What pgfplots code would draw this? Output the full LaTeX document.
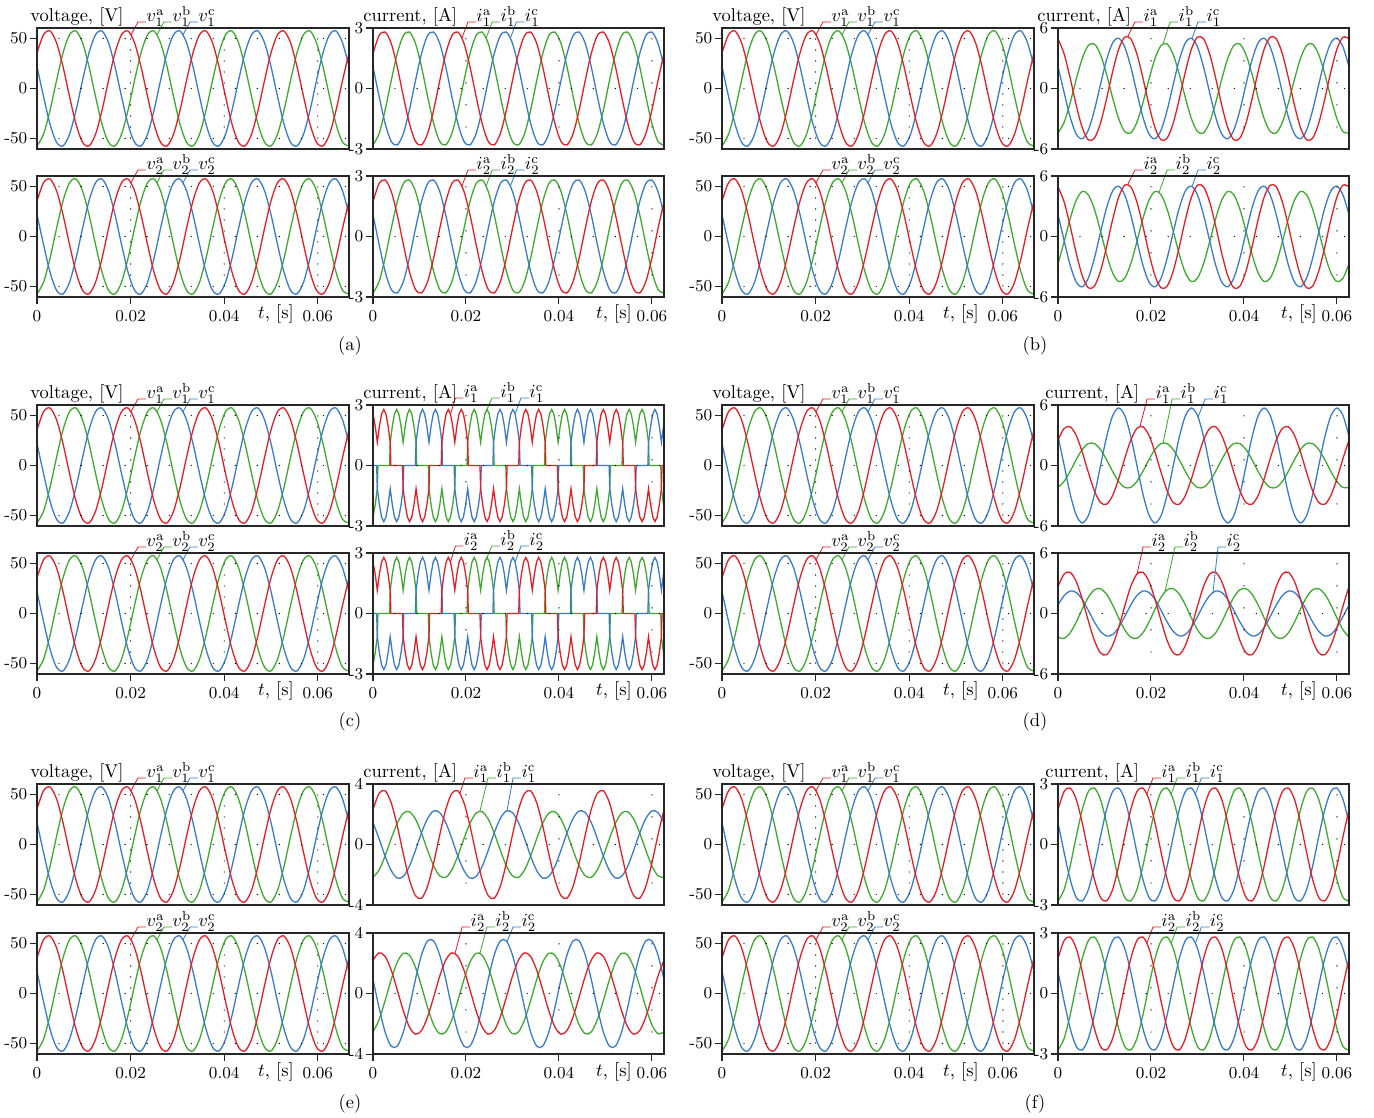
\documentclass[border=0pt]{standalone}
\usepackage{pgfplots}
\pgfplotsset{compat=1.18}
\usepackage{pgfplotstable}
\definecolor{cR}{RGB}{228,30,38}
\definecolor{cG}{RGB}{62,168,48}
\definecolor{cB}{RGB}{58,122,198}
\pgfplotsset{
 P/.style={scale only axis, anchor=north west, clip=false, axis on top,
  height=65.34pt,
  axis line style={black!85, line width=0.7pt},
  tick style={black!85, line width=0.55pt},
  tick align=outside, xtick pos=bottom, ytick pos=left,
  major tick length=3.6pt,
  tick label style={font=\small},
  yticklabel style={inner sep=1.5pt},
  xmajorgrids, ymajorgrids,
  x grid style={black, line width=0.75pt, line cap=round, dash pattern=on 0pt off 11.9pt},
  y grid style={black, line width=0.75pt, line cap=round, dash pattern=on 0pt off 11.9pt},
  every axis plot/.append style={line width=0.7pt},
 },
 V/.style={P, width=168.48pt, xmin=0, xmax=1440, ymin=-60.5, ymax=60.5,
  ytick={-50,0,50}, yticklabels={-50,0,50}, xtick={0,432,864,1296},
  x grid style={dash pattern=on 0pt off 5.94pt}},
 C/.style={P, width=157.14pt, xmin=0, xmax=1440, xtick={0,460.1,920.3,1380.4}},
 Cc/.style={P, width=157.14pt, xmin=0, xmax=1352, xtick={0,432,864,1296}},
 y3/.style={ymin=-3,ymax=3,ytick={-3,0,3},yticklabels={-3,0,3}},
 y4/.style={ymin=-4,ymax=4,ytick={-4,0,4},yticklabels={-4,0,4}},
 y6/.style={ymin=-6,ymax=6,ytick={-6,0,6},yticklabels={-6,0,6}},
 top/.style={xticklabels={}, xtick style={draw=none}},
 bot/.style={xticklabels={0,0.02,0.04,0.06}},
}
\newcommand\ldr[7]{\draw[#1,line width=0.45pt] (axis cs:#2,#3) -- (axis cs:#4,#5) -- (axis cs:#6,#5) node[anchor=base west,inner sep=0pt,text=black]{#7};}
\newcommand\abc[1]{\addplot[cG,smooth] table[x=x,y=b]{#1};\addplot[cB,smooth] table[x=x,y=c]{#1};\addplot[cR,smooth] table[x=x,y=a]{#1};}
\newcommand\vlead[1]{\ldr{cR}{434}{53.8}{466}{66.5}{503}{$v_#1^{\mathrm{a}}$}\ldr{cG}{554}{53.8}{586}{66.5}{623}{$v_#1^{\mathrm{b}}$}\ldr{cB}{674}{53.8}{706}{66.5}{743}{$v_#1^{\mathrm{c}}$}}
\newcommand\alead[1]{\ldr{cR}{440}{2.50}{470}{3.3}{510}{$i_#1^{\mathrm{a}}$}\ldr{cG}{560}{2.50}{590}{3.3}{630}{$i_#1^{\mathrm{b}}$}\ldr{cB}{680}{2.50}{710}{3.3}{750}{$i_#1^{\mathrm{c}}$}}

\pgfplotstableread{
x a b c
0 35.55 -57.46 21.91
30 53.70 -45.83 -7.87
60 57.46 -21.91 -35.55
90 45.83 7.87 -53.70
120 21.91 35.55 -57.46
150 -7.87 53.70 -45.83
180 -35.55 57.46 -21.91
210 -53.70 45.83 7.87
240 -57.46 21.91 35.55
270 -45.83 -7.87 53.70
300 -21.91 -35.55 57.46
330 7.87 -53.70 45.83
360 35.55 -57.46 21.91
390 53.70 -45.83 -7.87
420 57.46 -21.91 -35.55
450 45.83 7.87 -53.70
480 21.91 35.55 -57.46
510 -7.87 53.70 -45.83
540 -35.55 57.46 -21.91
570 -53.70 45.83 7.87
600 -57.46 21.91 35.55
630 -45.83 -7.87 53.70
660 -21.91 -35.55 57.46
690 7.87 -53.70 45.83
720 35.55 -57.46 21.91
750 53.70 -45.83 -7.87
780 57.46 -21.91 -35.55
810 45.83 7.87 -53.70
840 21.91 35.55 -57.46
870 -7.87 53.70 -45.83
900 -35.55 57.46 -21.91
930 -53.70 45.83 7.87
960 -57.46 21.91 35.55
990 -45.83 -7.87 53.70
1020 -21.91 -35.55 57.46
1050 7.87 -53.70 45.83
1080 35.55 -57.46 21.91
1110 53.70 -45.83 -7.87
1140 57.46 -21.91 -35.55
1170 45.83 7.87 -53.70
1200 21.91 35.55 -57.46
1230 -7.87 53.70 -45.83
1260 -35.55 57.46 -21.91
1290 -53.70 45.83 7.87
1320 -57.46 21.91 35.55
1350 -45.83 -7.87 53.70
1380 -21.91 -35.55 57.46
1410 7.87 -53.70 45.83
1440 35.55 -57.46 21.91
}\tV

\pgfplotstableread{
x a b c
0 1.73 -2.80 1.07
30 2.62 -2.24 -0.38
60 2.80 -1.07 -1.73
90 2.24 0.38 -2.62
120 1.07 1.73 -2.80
150 -0.38 2.62 -2.24
180 -1.73 2.80 -1.07
210 -2.62 2.24 0.38
240 -2.80 1.07 1.73
270 -2.24 -0.38 2.62
300 -1.07 -1.73 2.80
330 0.38 -2.62 2.24
360 1.73 -2.80 1.07
390 2.62 -2.24 -0.38
420 2.80 -1.07 -1.73
450 2.24 0.38 -2.62
480 1.07 1.73 -2.80
510 -0.38 2.62 -2.24
540 -1.73 2.80 -1.07
570 -2.62 2.24 0.38
600 -2.80 1.07 1.73
630 -2.24 -0.38 2.62
660 -1.07 -1.73 2.80
690 0.38 -2.62 2.24
720 1.73 -2.80 1.07
750 2.62 -2.24 -0.38
780 2.80 -1.07 -1.73
810 2.24 0.38 -2.62
840 1.07 1.73 -2.80
870 -0.38 2.62 -2.24
900 -1.73 2.80 -1.07
930 -2.62 2.24 0.38
960 -2.80 1.07 1.73
990 -2.24 -0.38 2.62
1020 -1.07 -1.73 2.80
1050 0.38 -2.62 2.24
1080 1.73 -2.80 1.07
1110 2.62 -2.24 -0.38
1140 2.80 -1.07 -1.73
1170 2.24 0.38 -2.62
1200 1.07 1.73 -2.80
1230 -0.38 2.62 -2.24
1260 -1.73 2.80 -1.07
1290 -2.62 2.24 0.38
1320 -2.80 1.07 1.73
1350 -2.24 -0.38 2.62
1380 -1.07 -1.73 2.80
1410 0.38 -2.62 2.24
1440 1.73 -2.80 1.07
}\tA

\pgfplotstableread{
x a b c
0 4.93 -4.41 2.16
30 3.45 -3.37 -0.38
60 1.05 -1.43 -2.83
90 -1.64 0.90 -4.51
120 -3.89 2.98 -4.99
150 -5.09 4.27 -4.13
180 -4.93 4.41 -2.16
210 -3.45 3.37 0.38
240 -1.05 1.43 2.83
270 1.64 -0.90 4.51
300 3.89 -2.98 4.99
330 5.09 -4.27 4.13
360 4.93 -4.41 2.16
390 3.45 -3.37 -0.38
420 1.05 -1.43 -2.83
450 -1.64 0.90 -4.51
480 -3.89 2.98 -4.99
510 -5.09 4.27 -4.13
540 -4.93 4.41 -2.16
570 -3.45 3.37 0.38
600 -1.05 1.43 2.83
630 1.64 -0.90 4.51
660 3.89 -2.98 4.99
690 5.09 -4.27 4.13
720 4.93 -4.41 2.16
750 3.45 -3.37 -0.38
780 1.05 -1.43 -2.83
810 -1.64 0.90 -4.51
840 -3.89 2.98 -4.99
870 -5.09 4.27 -4.13
900 -4.93 4.41 -2.16
930 -3.45 3.37 0.38
960 -1.05 1.43 2.83
990 1.64 -0.90 4.51
1020 3.89 -2.98 4.99
1050 5.09 -4.27 4.13
1080 4.93 -4.41 2.16
1110 3.45 -3.37 -0.38
1140 1.05 -1.43 -2.83
1170 -1.64 0.90 -4.51
1200 -3.89 2.98 -4.99
1230 -5.09 4.27 -4.13
1260 -4.93 4.41 -2.16
1290 -3.45 3.37 0.38
1320 -1.05 1.43 2.83
1350 1.64 -0.90 4.51
1380 3.89 -2.98 4.99
1410 5.09 -4.27 4.13
1440 4.93 -4.41 2.16
}\tB

\pgfplotstableread{
x a b c
0 4.93 -2.71 2.16
30 3.45 -0.55 -0.38
60 1.05 1.76 -2.83
90 -1.64 3.59 -4.51
120 -3.89 4.47 -4.99
150 -5.09 4.14 -4.13
180 -4.93 2.71 -2.16
210 -3.45 0.55 0.38
240 -1.05 -1.76 2.83
270 1.64 -3.59 4.51
300 3.89 -4.47 4.99
330 5.09 -4.14 4.13
360 4.93 -2.71 2.16
390 3.45 -0.55 -0.38
420 1.05 1.76 -2.83
450 -1.64 3.59 -4.51
480 -3.89 4.47 -4.99
510 -5.09 4.14 -4.13
540 -4.93 2.71 -2.16
570 -3.45 0.55 0.38
600 -1.05 -1.76 2.83
630 1.64 -3.59 4.51
660 3.89 -4.47 4.99
690 5.09 -4.14 4.13
720 4.93 -2.71 2.16
750 3.45 -0.55 -0.38
780 1.05 1.76 -2.83
810 -1.64 3.59 -4.51
840 -3.89 4.47 -4.99
870 -5.09 4.14 -4.13
900 -4.93 2.71 -2.16
930 -3.45 0.55 0.38
960 -1.05 -1.76 2.83
990 1.64 -3.59 4.51
1020 3.89 -4.47 4.99
1050 5.09 -4.14 4.13
1080 4.93 -2.71 2.16
1110 3.45 -0.55 -0.38
1140 1.05 1.76 -2.83
1170 -1.64 3.59 -4.51
1200 -3.89 4.47 -4.99
1230 -5.09 4.14 -4.13
1260 -4.93 2.71 -2.16
1290 -3.45 0.55 0.38
1320 -1.05 -1.76 2.83
1350 1.64 -3.59 4.51
1380 3.89 -4.47 4.99
1410 5.09 -4.14 4.13
1440 4.93 -2.71 2.16
}\tBb

\pgfplotstableread{
x a b c
0 2.51 -2.17 2.90
30 3.67 -1.59 0.06
60 3.84 -0.58 -2.80
90 2.99 0.58 -4.91
120 1.33 1.59 -5.70
150 -0.68 2.17 -4.97
180 -2.51 2.17 -2.90
210 -3.67 1.59 -0.06
240 -3.84 0.58 2.80
270 -2.99 -0.58 4.91
300 -1.33 -1.59 5.70
330 0.68 -2.17 4.97
360 2.51 -2.17 2.90
390 3.67 -1.59 0.06
420 3.84 -0.58 -2.80
450 2.99 0.58 -4.91
480 1.33 1.59 -5.70
510 -0.68 2.17 -4.97
540 -2.51 2.17 -2.90
570 -3.67 1.59 -0.06
600 -3.84 0.58 2.80
630 -2.99 -0.58 4.91
660 -1.33 -1.59 5.70
690 0.68 -2.17 4.97
720 2.51 -2.17 2.90
750 3.67 -1.59 0.06
780 3.84 -0.58 -2.80
810 2.99 0.58 -4.91
840 1.33 1.59 -5.70
870 -0.68 2.17 -4.97
900 -2.51 2.17 -2.90
930 -3.67 1.59 -0.06
960 -3.84 0.58 2.80
990 -2.99 -0.58 4.91
1020 -1.33 -1.59 5.70
1050 0.68 -2.17 4.97
1080 2.51 -2.17 2.90
1110 3.67 -1.59 0.06
1140 3.84 -0.58 -2.80
1170 2.99 0.58 -4.91
1200 1.33 1.59 -5.70
1230 -0.68 2.17 -4.97
1260 -2.51 2.17 -2.90
1290 -3.67 1.59 -0.06
1320 -3.84 0.58 2.80
1350 -2.99 -0.58 4.91
1380 -1.33 -1.59 5.70
1410 0.68 -2.17 4.97
1440 2.51 -2.17 2.90
}\tDa

\pgfplotstableread{
x a b c
0 2.67 -2.35 0.84
30 3.90 -2.46 1.77
60 4.09 -1.92 2.23
90 3.18 -0.86 2.09
120 1.42 0.43 1.39
150 -0.72 1.61 0.31
180 -2.67 2.35 -0.84
210 -3.90 2.46 -1.77
240 -4.09 1.92 -2.23
270 -3.18 0.86 -2.09
300 -1.42 -0.43 -1.39
330 0.72 -1.61 -0.31
360 2.67 -2.35 0.84
390 3.90 -2.46 1.77
420 4.09 -1.92 2.23
450 3.18 -0.86 2.09
480 1.42 0.43 1.39
510 -0.72 1.61 0.31
540 -2.67 2.35 -0.84
570 -3.90 2.46 -1.77
600 -4.09 1.92 -2.23
630 -3.18 0.86 -2.09
660 -1.42 -0.43 -1.39
690 0.72 -1.61 -0.31
720 2.67 -2.35 0.84
750 3.90 -2.46 1.77
780 4.09 -1.92 2.23
810 3.18 -0.86 2.09
840 1.42 0.43 1.39
870 -0.72 1.61 0.31
900 -2.67 2.35 -0.84
930 -3.90 2.46 -1.77
960 -4.09 1.92 -2.23
990 -3.18 0.86 -2.09
1020 -1.42 -0.43 -1.39
1050 0.72 -1.61 -0.31
1080 2.67 -2.35 0.84
1110 3.90 -2.46 1.77
1140 4.09 -1.92 2.23
1170 3.18 -0.86 2.09
1200 1.42 0.43 1.39
1230 -0.72 1.61 0.31
1260 -2.67 2.35 -0.84
1290 -3.90 2.46 -1.77
1320 -4.09 1.92 -2.23
1350 -3.18 0.86 -2.09
1380 -1.42 -0.43 -1.39
1410 0.72 -1.61 -0.31
1440 2.67 -2.35 0.84
}\tDb

\pgfplotstableread{
x a b c
0 2.31 -2.17 1.45
30 3.38 -1.69 0.39
60 3.55 -0.75 -0.77
90 2.76 0.38 -1.72
120 1.23 1.41 -2.22
150 -0.62 2.07 -2.11
180 -2.31 2.17 -1.45
210 -3.38 1.69 -0.39
240 -3.55 0.75 0.77
270 -2.76 -0.38 1.72
300 -1.23 -1.41 2.22
330 0.62 -2.07 2.11
360 2.31 -2.17 1.45
390 3.38 -1.69 0.39
420 3.55 -0.75 -0.77
450 2.76 0.38 -1.72
480 1.23 1.41 -2.22
510 -0.62 2.07 -2.11
540 -2.31 2.17 -1.45
570 -3.38 1.69 -0.39
600 -3.55 0.75 0.77
630 -2.76 -0.38 1.72
660 -1.23 -1.41 2.22
690 0.62 -2.07 2.11
720 2.31 -2.17 1.45
750 3.38 -1.69 0.39
780 3.55 -0.75 -0.77
810 2.76 0.38 -1.72
840 1.23 1.41 -2.22
870 -0.62 2.07 -2.11
900 -2.31 2.17 -1.45
930 -3.38 1.69 -0.39
960 -3.55 0.75 0.77
990 -2.76 -0.38 1.72
1020 -1.23 -1.41 2.22
1050 0.62 -2.07 2.11
1080 2.31 -2.17 1.45
1110 3.38 -1.69 0.39
1140 3.55 -0.75 -0.77
1170 2.76 0.38 -1.72
1200 1.23 1.41 -2.22
1230 -0.62 2.07 -2.11
1260 -2.31 2.17 -1.45
1290 -3.38 1.69 -0.39
1320 -3.55 0.75 0.77
1350 -2.76 -0.38 1.72
1380 -1.23 -1.41 2.22
1410 0.62 -2.07 2.11
1440 2.31 -2.17 1.45
}\tEa

\pgfplotstableread{
x a b c
0 2.21 -2.54 0.93
30 2.69 -1.74 -0.93
60 2.45 -0.47 -2.55
90 1.55 0.92 -3.48
120 0.24 2.07 -3.48
150 -1.14 2.66 -2.55
180 -2.21 2.54 -0.93
210 -2.69 1.74 0.93
240 -2.45 0.47 2.55
270 -1.55 -0.92 3.48
300 -0.24 -2.07 3.48
330 1.14 -2.66 2.55
360 2.21 -2.54 0.93
390 2.69 -1.74 -0.93
420 2.45 -0.47 -2.55
450 1.55 0.92 -3.48
480 0.24 2.07 -3.48
510 -1.14 2.66 -2.55
540 -2.21 2.54 -0.93
570 -2.69 1.74 0.93
600 -2.45 0.47 2.55
630 -1.55 -0.92 3.48
660 -0.24 -2.07 3.48
690 1.14 -2.66 2.55
720 2.21 -2.54 0.93
750 2.69 -1.74 -0.93
780 2.45 -0.47 -2.55
810 1.55 0.92 -3.48
840 0.24 2.07 -3.48
870 -1.14 2.66 -2.55
900 -2.21 2.54 -0.93
930 -2.69 1.74 0.93
960 -2.45 0.47 2.55
990 -1.55 -0.92 3.48
1020 -0.24 -2.07 3.48
1050 1.14 -2.66 2.55
1080 2.21 -2.54 0.93
1110 2.69 -1.74 -0.93
1140 2.45 -0.47 -2.55
1170 1.55 0.92 -3.48
1200 0.24 2.07 -3.48
1230 -1.14 2.66 -2.55
1260 -2.21 2.54 -0.93
1290 -2.69 1.74 0.93
1320 -2.45 0.47 2.55
1350 -1.55 -0.92 3.48
1380 -0.24 -2.07 3.48
1410 1.14 -2.66 2.55
1440 2.21 -2.54 0.93
}\tEb

\pgfplotstableread{
x y
0 2.56
10 1.97
20 1.15
30 1.97
40 2.56
50 2.78
60 2.56
70 1.97
80 1.15
83 0
137 0
140 -1.15
150 -1.97
160 -2.56
170 -2.78
180 -2.56
190 -1.97
200 -1.15
210 -1.97
220 -2.56
230 -2.78
240 -2.56
250 -1.97
260 -1.15
263 0
317 0
320 1.15
330 1.97
340 2.56
350 2.78
360 2.56
370 1.97
380 1.15
390 1.97
400 2.56
410 2.78
420 2.56
430 1.97
440 1.15
443 0
497 0
500 -1.15
510 -1.97
520 -2.56
530 -2.78
540 -2.56
550 -1.97
560 -1.15
570 -1.97
580 -2.56
590 -2.78
600 -2.56
610 -1.97
620 -1.15
623 0
677 0
680 1.15
690 1.97
700 2.56
710 2.78
720 2.56
730 1.97
740 1.15
750 1.97
760 2.56
770 2.78
780 2.56
790 1.97
800 1.15
803 0
857 0
860 -1.15
870 -1.97
880 -2.56
890 -2.78
900 -2.56
910 -1.97
920 -1.15
930 -1.97
940 -2.56
950 -2.78
960 -2.56
970 -1.97
980 -1.15
983 0
1037 0
1040 1.15
1050 1.97
1060 2.56
1070 2.78
1080 2.56
1090 1.97
1100 1.15
1110 1.97
1120 2.56
1130 2.78
1140 2.56
1150 1.97
1160 1.15
1163 0
1217 0
1220 -1.15
1230 -1.97
1240 -2.56
1250 -2.78
1260 -2.56
1270 -1.97
1280 -1.15
1290 -1.97
1300 -2.56
1310 -2.78
1320 -2.56
1330 -1.97
1340 -1.15
1343 0
1352 0
}\tCr

\pgfplotstableread{
x y
0 -2.56
10 -1.97
20 -1.15
23 0
77 0
80 1.15
90 1.97
100 2.56
110 2.78
120 2.56
130 1.97
140 1.15
150 1.97
160 2.56
170 2.78
180 2.56
190 1.97
200 1.15
203 0
257 0
260 -1.15
270 -1.97
280 -2.56
290 -2.78
300 -2.56
310 -1.97
320 -1.15
330 -1.97
340 -2.56
350 -2.78
360 -2.56
370 -1.97
380 -1.15
383 0
437 0
440 1.15
450 1.97
460 2.56
470 2.78
480 2.56
490 1.97
500 1.15
510 1.97
520 2.56
530 2.78
540 2.56
550 1.97
560 1.15
563 0
617 0
620 -1.15
630 -1.97
640 -2.56
650 -2.78
660 -2.56
670 -1.97
680 -1.15
690 -1.97
700 -2.56
710 -2.78
720 -2.56
730 -1.97
740 -1.15
743 0
797 0
800 1.15
810 1.97
820 2.56
830 2.78
840 2.56
850 1.97
860 1.15
870 1.97
880 2.56
890 2.78
900 2.56
910 1.97
920 1.15
923 0
977 0
980 -1.15
990 -1.97
1000 -2.56
1010 -2.78
1020 -2.56
1030 -1.97
1040 -1.15
1050 -1.97
1060 -2.56
1070 -2.78
1080 -2.56
1090 -1.97
1100 -1.15
1103 0
1157 0
1160 1.15
1170 1.97
1180 2.56
1190 2.78
1200 2.56
1210 1.97
1220 1.15
1230 1.97
1240 2.56
1250 2.78
1260 2.56
1270 1.97
1280 1.15
1283 0
1337 0
1340 -1.15
1350 -1.97
1352 -2.09
}\tCg

\pgfplotstableread{
x y
0 0
17 0
20 -1.15
30 -1.97
40 -2.56
50 -2.78
60 -2.56
70 -1.97
80 -1.15
90 -1.97
100 -2.56
110 -2.78
120 -2.56
130 -1.97
140 -1.15
143 0
197 0
200 1.15
210 1.97
220 2.56
230 2.78
240 2.56
250 1.97
260 1.15
270 1.97
280 2.56
290 2.78
300 2.56
310 1.97
320 1.15
323 0
377 0
380 -1.15
390 -1.97
400 -2.56
410 -2.78
420 -2.56
430 -1.97
440 -1.15
450 -1.97
460 -2.56
470 -2.78
480 -2.56
490 -1.97
500 -1.15
503 0
557 0
560 1.15
570 1.97
580 2.56
590 2.78
600 2.56
610 1.97
620 1.15
630 1.97
640 2.56
650 2.78
660 2.56
670 1.97
680 1.15
683 0
737 0
740 -1.15
750 -1.97
760 -2.56
770 -2.78
780 -2.56
790 -1.97
800 -1.15
810 -1.97
820 -2.56
830 -2.78
840 -2.56
850 -1.97
860 -1.15
863 0
917 0
920 1.15
930 1.97
940 2.56
950 2.78
960 2.56
970 1.97
980 1.15
990 1.97
1000 2.56
1010 2.78
1020 2.56
1030 1.97
1040 1.15
1043 0
1097 0
1100 -1.15
1110 -1.97
1120 -2.56
1130 -2.78
1140 -2.56
1150 -1.97
1160 -1.15
1170 -1.97
1180 -2.56
1190 -2.78
1200 -2.56
1210 -1.97
1220 -1.15
1223 0
1277 0
1280 1.15
1290 1.97
1300 2.56
1310 2.78
1320 2.56
1330 1.97
1340 1.15
1350 1.97
1352 2.09
}\tCb

\begin{document}
\begin{tikzpicture}
\path[use as bounding box] (0,0) rectangle (741.96pt,-603.72pt);

% ---------------- (a)
\begin{axis}[V,top,at={(19.98pt,-15.12pt)}]
\abc{\tV}\vlead{1}
\end{axis}
\begin{axis}[V,bot,at={(19.98pt,-95.04pt)}]
\abc{\tV}\vlead{2}
\end{axis}
\begin{axis}[C,y3,top,at={(201.42pt,-15.12pt)}]
\abc{\tA}\alead{1}
\end{axis}
\begin{axis}[C,y3,bot,at={(201.42pt,-95.04pt)}]
\abc{\tA}\alead{2}
\end{axis}

% ---------------- (b)
\begin{axis}[V,top,at={(389.88pt,-15.12pt)}]
\abc{\tV}\vlead{1}
\end{axis}
\begin{axis}[V,bot,at={(389.88pt,-95.04pt)}]
\abc{\tV}\vlead{2}
\end{axis}
\begin{axis}[C,y6,top,at={(571.32pt,-15.12pt)}]
\abc{\tB}
\ldr{cR}{346}{5.18}{381}{6.6}{421}{$i_1^{\mathrm{a}}$}
\ldr{cG}{520}{4.45}{555}{6.6}{595}{$i_1^{\mathrm{b}}$}
\ldr{cB}{663}{4.96}{693}{6.6}{733}{$i_1^{\mathrm{c}}$}
\end{axis}
\begin{axis}[C,y6,bot,at={(571.32pt,-95.04pt)}]
\abc{\tBb}
\ldr{cR}{346}{5.18}{381}{6.6}{421}{$i_2^{\mathrm{a}}$}
\ldr{cG}{500}{4.38}{540}{6.6}{580}{$i_2^{\mathrm{b}}$}
\ldr{cB}{663}{4.96}{693}{6.6}{733}{$i_2^{\mathrm{c}}$}
\end{axis}

% ---------------- (c)
\begin{axis}[V,top,at={(19.98pt,-218.7pt)}]
\abc{\tV}\vlead{1}
\end{axis}
\begin{axis}[V,bot,at={(19.98pt,-298.62pt)}]
\abc{\tV}\vlead{2}
\end{axis}
\begin{axis}[Cc,y3,top,at={(201.42pt,-218.7pt)}]
\addplot[cG] table[x=x,y=y]{\tCg};
\addplot[cB] table[x=x,y=y]{\tCb};
\addplot[cR] table[x=x,y=y]{\tCr};
\ldr{cR}{360}{2.56}{383}{3.35}{420}{$i_1^{\mathrm{a}}$}
\ldr{cG}{520}{2.56}{553}{3.35}{590}{$i_1^{\mathrm{b}}$}
\ldr{cB}{660}{2.56}{688}{3.35}{725}{$i_1^{\mathrm{c}}$}
\end{axis}
\begin{axis}[Cc,y3,bot,at={(201.42pt,-298.62pt)}]
\addplot[cG] table[x=x,y=y]{\tCg};
\addplot[cB] table[x=x,y=y]{\tCb};
\addplot[cR] table[x=x,y=y]{\tCr};
\ldr{cR}{360}{2.56}{383}{3.35}{420}{$i_2^{\mathrm{a}}$}
\ldr{cG}{520}{2.56}{553}{3.35}{590}{$i_2^{\mathrm{b}}$}
\ldr{cB}{660}{2.56}{688}{3.35}{725}{$i_2^{\mathrm{c}}$}
\end{axis}

% ---------------- (d)
\begin{axis}[V,top,at={(389.88pt,-218.7pt)}]
\abc{\tV}\vlead{1}
\end{axis}
\begin{axis}[V,bot,at={(389.88pt,-298.62pt)}]
\abc{\tV}\vlead{2}
\end{axis}
\begin{axis}[C,y6,top,at={(571.32pt,-218.7pt)}]
\abc{\tDa}
\ldr{cR}{406}{3.89}{441}{6.6}{481}{$i_1^{\mathrm{a}}$}
\ldr{cG}{520}{2.24}{565}{6.6}{605}{$i_1^{\mathrm{b}}$}
\ldr{cB}{693}{4.81}{728}{6.6}{768}{$i_1^{\mathrm{c}}$}
\end{axis}
\begin{axis}[C,y6,bot,at={(571.32pt,-298.62pt)}]
\abc{\tDb}
\ldr{cR}{391}{3.92}{421}{6.6}{461}{$i_2^{\mathrm{a}}$}
\ldr{cG}{529}{2.14}{579}{6.6}{619}{$i_2^{\mathrm{b}}$}
\ldr{cB}{767}{2.10}{792}{6.6}{832}{$i_2^{\mathrm{c}}$}
\end{axis}

% ---------------- (e)
\begin{axis}[V,top,at={(19.98pt,-423.36pt)}]
\abc{\tV}\vlead{1}
\end{axis}
\begin{axis}[V,bot,at={(19.98pt,-503.82pt)}]
\abc{\tV}\vlead{2}
\end{axis}
\begin{axis}[C,y4,top,at={(201.42pt,-423.36pt)}]
\abc{\tEa}
\ldr{cR}{430}{3.38}{455}{4.4}{495}{$i_1^{\mathrm{a}}$}
\ldr{cG}{529}{2.20}{569}{4.4}{609}{$i_1^{\mathrm{b}}$}
\ldr{cB}{663}{2.23}{693}{4.4}{733}{$i_1^{\mathrm{c}}$}
\end{axis}
\begin{axis}[C,y4,bot,at={(201.42pt,-503.82pt)}]
\abc{\tEb}
\ldr{cR}{406}{2.65}{441}{4.4}{481}{$i_2^{\mathrm{a}}$}
\ldr{cG}{529}{2.67}{564}{4.4}{604}{$i_2^{\mathrm{b}}$}
\ldr{cB}{663}{3.42}{693}{4.4}{733}{$i_2^{\mathrm{c}}$}
\end{axis}

% ---------------- (f)
\begin{axis}[V,top,at={(389.88pt,-423.36pt)}]
\abc{\tV}\vlead{1}
\end{axis}
\begin{axis}[V,bot,at={(389.88pt,-503.82pt)}]
\abc{\tV}\vlead{2}
\end{axis}
\begin{axis}[C,y3,top,at={(571.32pt,-423.36pt)}]
\abc{\tA}\alead{1}
\end{axis}
\begin{axis}[C,y3,bot,at={(571.32pt,-503.82pt)}]
\abc{\tA}\alead{2}
\end{axis}

% titles
\foreach \yy in {11.88,215.46,420.12}{
  \node[anchor=base west,inner sep=0pt] at (16.2pt,-\yy pt) {voltage, [V]};
  \node[anchor=base west,inner sep=0pt] at (384.48pt,-\yy pt) {voltage, [V]};
  \node[anchor=base west,inner sep=0pt] at (196.02pt,-\yy pt) {current, [A]};
}
\node[anchor=base west,inner sep=0pt] at (559.98pt,-11.88pt) {current, [A]};
\node[anchor=base west,inner sep=0pt] at (564.3pt,-215.46pt) {current, [A]};
\node[anchor=base west,inner sep=0pt] at (564.3pt,-420.12pt) {current, [A]};

% t labels
\foreach \yy in {172.26,375.84,581.04}{
  \foreach \xx in {149.04,331.56,518.94,701.46}{
    \node[anchor=base,inner sep=0pt] at (\xx pt,-\yy pt) {$t$, [s]};
  }
}

% captions
\node at (189pt,-186.84pt) {(a)};
\node at (558.9pt,-186.84pt) {(b)};
\node at (189pt,-389.88pt) {(c)};
\node at (558.9pt,-389.88pt) {(d)};
\node at (189pt,-596.16pt) {(e)};
\node at (558.9pt,-596.16pt) {(f)};
\end{tikzpicture}
\end{document}
